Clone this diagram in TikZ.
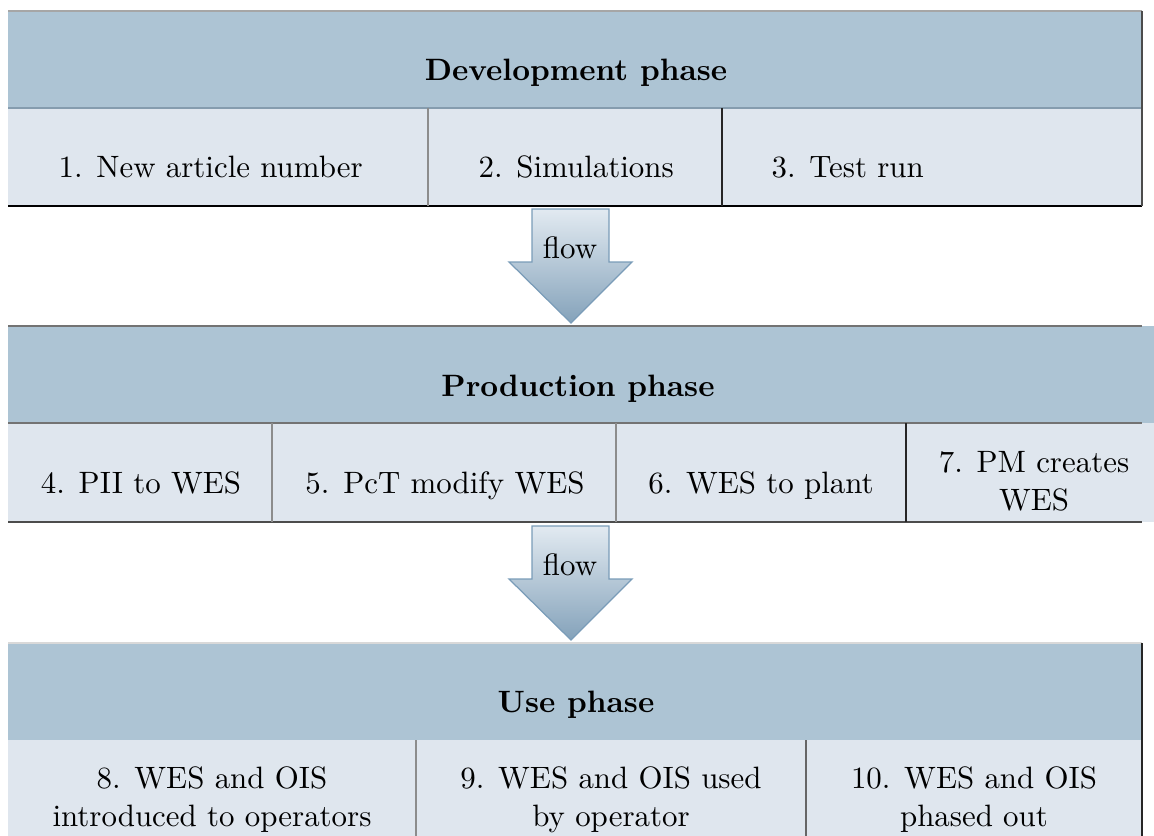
\documentclass[tikz,border=0pt]{standalone}
\definecolor{headfill}{RGB}{173,196,212}
\definecolor{rowfill}{RGB}{223,230,238}
\definecolor{sepblue}{RGB}{133,156,174}
\definecolor{arrowtop}{RGB}{226,234,241}
\definecolor{arrowbot}{RGB}{132,162,186}
\definecolor{arrowline}{RGB}{122,156,184}

\begin{document}
\begin{tikzpicture}[x=0.3236pt,y=0.3236pt,
  headtext/.style={font=\bfseries, anchor=base, inner sep=0pt},
  celltext/.style={anchor=base, inner sep=0pt, align=center},
  flowtext/.style={anchor=base, inner sep=0pt},
  flowarrow/.style={draw=arrowline, line width=0.4pt, top color=arrowtop, bottom color=arrowbot},
  toprule/.style={line width=0.35pt, draw=black!35},
  midrule/.style={line width=0.45pt, draw=sepblue},
  botrule/.style={line width=0.6pt, draw=black},
  lightsep/.style={line width=0.35pt, draw=black!45},
  darksep/.style={line width=0.4pt, draw=black!85}]
\useasboundingbox (0,0) rectangle (1154,-835);

% ---------- Development phase ----------
\fill[headfill] (8,-11) rectangle (1142,-108);
\fill[rowfill] (8,-108) rectangle (1142,-206);
\draw[toprule] (8,-11) -- (1142,-11);
\draw[midrule] (8,-108) -- (1142,-108);
\draw[botrule] (8,-206) -- (1142,-206);
\draw[lightsep] (428,-108) -- (428,-206);
\draw[darksep] (722,-108) -- (722,-206);
\draw[line width=0.55pt, draw=black!70] (1142,-11) -- (1142,-206);
\node[headtext] (devhead) at (576,-81) {Development phase};
\node[celltext, anchor=base west] (s1) at (58,-177) {1. New article number};
\node[celltext, anchor=base west] (s2) at (478,-177) {2. Simulations};
\node[celltext, anchor=base west] (s3) at (771,-177) {3. Test run};

% ---------- flow arrow 1 ----------
\shade[flowarrow] (532,-209) -- (609,-209) -- (609,-262) -- (632,-262)
  -- (571,-323) -- (509,-262) -- (532,-262) -- cycle;
\node[flowtext] (flow1) at (570,-258) {flow};

% ---------- Production phase ----------
\fill[headfill] (8,-326) rectangle (1154,-423);
\fill[rowfill] (8,-423) rectangle (1154,-522);
\draw[toprule, draw=black!55] (8,-326) -- (1142,-326);
\draw[midrule, draw=black!55] (8,-423) -- (1142,-423);
\draw[botrule, draw=black!70] (8,-522) -- (1142,-522);
\draw[lightsep] (272,-423) -- (272,-522);
\draw[lightsep] (616,-423) -- (616,-522);
\draw[darksep] (906,-423) -- (906,-522);
\node[headtext] (prodhead) at (578,-396) {Production phase};
\node[celltext] (s4) at (141,-493) {4. PII to WES};
\node[celltext] (s5) at (445,-493) {5. PcT modify WES};
\node[celltext] (s6) at (761,-493) {6. WES to plant};
\node[celltext] (s7) at (1034,-510) {7. PM creates\\WES};

% ---------- flow arrow 2 ----------
\shade[flowarrow] (532,-526) -- (609,-526) -- (609,-579) -- (632,-579)
  -- (571,-640) -- (509,-579) -- (532,-579) -- cycle;
\node[flowtext] (flow2) at (570,-575) {flow};

% ---------- Use phase ----------
\fill[headfill] (8,-643) rectangle (1142,-740);
\fill[rowfill] (8,-740) rectangle (1142,-860);
\draw[toprule, draw=black!15] (8,-643) -- (1142,-643);
\draw[lightsep] (416,-740) -- (416,-860);
\draw[lightsep, draw=black!60] (806,-740) -- (806,-860);
\draw[line width=0.55pt, draw=black!85] (1142,-643) -- (1142,-860);
\node[headtext] (usehead) at (576,-712) {Use phase};
\node[celltext] (s8) at (212,-826) {8. WES and OIS\\introduced to operators};
\node[celltext] (s9) at (611,-826) {9. WES and OIS used\\by operator};
\node[celltext] (s10) at (974,-826) {10. WES and OIS\\phased out};
\end{tikzpicture}
\end{document}
